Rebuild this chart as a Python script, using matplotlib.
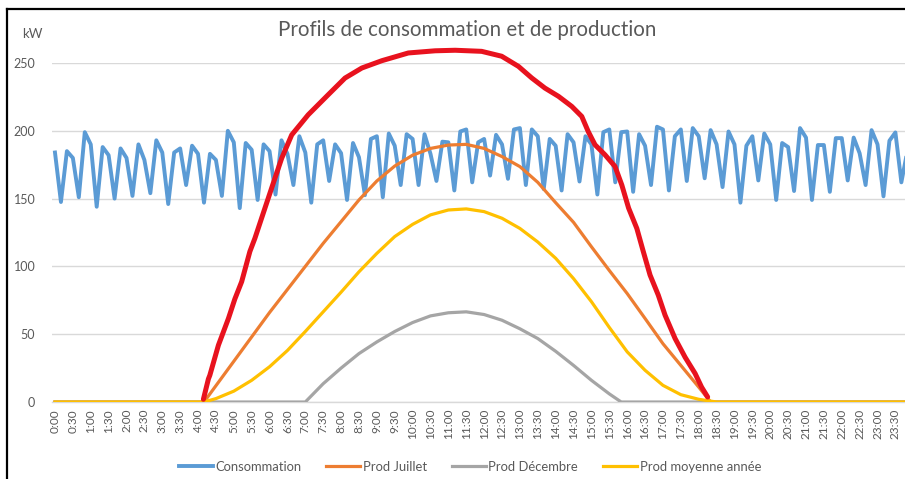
import matplotlib
matplotlib.use("Agg")
import matplotlib.pyplot as plt
from matplotlib.lines import Line2D
import numpy as np

plt.rcParams['font.family'] = ['Lato', 'DejaVu Sans']

# ---------------- data ----------------
title = "Profils de consommation et de production"
y_unit = "kW"

# consumption, every 10 minutes from 0:00 to 23:50 (144 values)
consommation = [
    184, 147.5, 185, 180, 151, 199, 190, 144, 188, 182, 150, 187, 180, 152, 190, 178.5, 154, 193, 184, 146, 184, 187, 160, 189,
    183, 147, 183, 178.5, 152, 200, 191.5, 143, 191, 186, 149, 190, 185, 153, 193, 183, 160, 196, 184, 147, 190, 193, 163,
    190, 183.5, 149, 191, 180.5, 152.5, 194, 196, 151, 198, 189, 160, 197.5, 194, 160, 197.5, 183, 163, 192, 191.5, 156, 199.5, 201, 162,
    191.5, 194, 167, 197, 190, 164.6, 201, 202, 160, 201, 196, 157, 194, 189, 156, 197.5, 191.5, 162.6, 196, 190, 153, 199, 201,
    162, 199, 199.5, 155, 197.5, 189, 160, 203, 201, 156, 196, 201, 163, 202, 196, 165, 200.5, 190, 158.5, 199.5, 190, 147, 189, 196,
    163.4, 198, 190, 149, 191, 188, 155.6, 202, 195, 149, 189.5, 189.5, 155, 194.6, 194.6, 163.4, 195, 183.4, 160, 200.5, 190, 151.7,
    192.7, 198.8, 162, 185,
]

juillet_times = ["0:00", "4:10", "4:30", "5:00", "5:30", "6:00", "6:30", "7:00", "7:30", "8:00", "8:30", "9:00",
                 "9:30", "10:00", "10:30", "11:00", "11:30", "12:00", "12:30", "13:00", "13:30", "14:00",
                 "14:30", "15:00", "15:30", "16:00", "16:30", "17:00", "17:30", "18:00", "18:20", "23:50"]
juillet = [0, 0, 12, 30, 48, 66, 83, 100, 117, 133, 149, 163, 174, 182, 187, 189.5, 190, 187, 181, 173.6,
           162, 147, 132.5, 114.5, 97, 80, 61.6, 43, 27, 11, 0, 0]

decembre_times = ["0:00", "7:00", "7:30", "8:00", "8:30", "9:00", "9:30", "10:00", "10:30", "11:00", "11:30",
                  "12:00", "12:30", "13:00", "13:30", "14:00", "14:30", "15:00", "15:30", "15:50", "23:50"]
decembre = [0, 0, 13.5, 25, 35.7, 44.3, 52, 58.6, 63.5, 65.8, 66.5, 64.5, 60.3, 54, 46.8, 37.4, 27, 16, 6, 0, 0]

moyenne_times = ["0:00", "4:10", "4:30", "5:00", "5:30", "6:00", "6:30", "7:00", "7:30", "8:00", "8:30", "9:00",
                 "9:30", "10:00", "10:30", "11:00", "11:30", "12:00", "12:30", "13:00", "13:30", "14:00",
                 "14:30", "15:00", "15:30", "16:00", "16:30", "17:00", "17:30", "18:00", "18:30", "23:50"]
moyenne = [0, 0, 2.5, 8, 16, 26, 38, 52, 66.5, 81, 96, 109.6, 122, 131, 138, 141.6, 142.4, 140.4, 135.5, 128,
           118, 106, 91, 74, 55, 37, 23.4, 12.3, 5.4, 2, 0, 0]

# hand-drawn red outline (decimal hours, kW)
red_hours = [4.15, 4.29, 4.33, 4.57, 4.85, 5.03, 5.22, 5.45, 5.59, 5.87, 6.15, 6.34, 6.62, 7.08, 7.64, 8.11,
             8.58, 9.14, 9.88, 10.63, 11.19, 11.93, 12.49, 12.96, 13.33, 13.70, 14.08, 14.45, 14.73, 14.91,
             15.10, 15.38, 15.66, 15.85, 16.04, 16.27, 16.45, 16.64, 16.87, 17.06, 17.34, 17.62, 17.90, 18.08, 18.25]
red_vals = [2, 17, 19.7, 41.9, 61.6, 76, 88.7, 111, 120.7, 142.9, 165, 179.8, 197, 211.8, 226.6, 238.9,
            246.3, 251.7, 257.4, 259, 259.4, 258.6, 255, 247.5, 239, 231.5, 225.4, 218, 210.6, 199.5,
            189.7, 182.3, 173.7, 160, 143, 128, 111, 93.6, 78.8, 64, 46.8, 33, 21, 11, 3.7]

series_names = ["Consommation", "Prod Juillet", "Prod Décembre", "Prod moyenne année"]
tick_labels = [f"{h}:{m:02d}" for h in range(24) for m in (0, 30)]
y_ticks = [0, 50, 100, 150, 200, 250]


def idx(t):
    h, m = t.split(":")
    return (int(h) * 60 + int(m)) / 10.0


# ---------------- figure ----------------
W, H = 905, 479
fig = plt.figure(figsize=(W / 100, H / 100), dpi=100)
fig.patch.set_facecolor("white")

ax_left, ax_right, ax_top, ax_bot = 52, 910.3, 63, 402
ax = fig.add_axes([ax_left / W, 1 - ax_bot / H, (ax_right - ax_left) / W, (ax_bot - ax_top) / H])

txt = "#595959"
grid = "#D9D9D9"

x_cons = np.arange(len(consommation))
l1, = ax.plot(x_cons, consommation, color="#5B9BD5", lw=2.8, solid_joinstyle="round", zorder=3)
l2, = ax.plot([idx(t) for t in juillet_times], juillet, color="#ED7D31", lw=2.3, zorder=4)
l3, = ax.plot([idx(t) for t in decembre_times], decembre, color="#A5A5A5", lw=2.3, zorder=5)
l4, = ax.plot([idx(t) for t in moyenne_times], moyenne, color="#FFC000", lw=2.3, zorder=6)
ax.plot([h * 6 for h in red_hours], red_vals, color="#E8121E", lw=3.6, solid_capstyle="round",
        solid_joinstyle="round", zorder=7, clip_on=False)

ax.set_xlim(-0.5, len(consommation) - 0.5)
ax.set_ylim(0, 250)
ax.set_yticks(y_ticks)
ax.set_xticks(np.arange(0, len(consommation), 3))
ax.set_xticklabels(tick_labels, rotation=90)
ax.tick_params(axis="x", length=0, pad=5, labelsize=8.5, colors=txt)
ax.tick_params(axis="y", length=0, pad=12, labelsize=9, colors=txt)
ax.grid(axis="y", color=grid, lw=1.0)
ax.set_axisbelow(True)
for s in ("top", "right", "left"):
    ax.spines[s].set_visible(False)
ax.spines["bottom"].set_color(grid)
ax.spines["bottom"].set_linewidth(1.0)

fig.text(467 / W, 1 - 30 / H, title, ha="center", va="center", fontsize=14.8, color=txt)
fig.text(32 / W, 1 - 34 / H, y_unit, ha="center", va="center", fontsize=9.5, color=txt)

fig.legend([l1, l2, l3, l4], series_names, loc="center", bbox_to_anchor=(470 / W, 1 - 467 / H),
           ncol=4, frameon=False, fontsize=9.4, handlelength=2.6, columnspacing=1.9, handletextpad=0.2,
           labelcolor=txt)

# outer black border (partially visible)
fig.add_artist(Line2D([7 / W, 7 / W], [0, 1 - 9 / H], color="black", lw=1.6, transform=fig.transFigure))
fig.add_artist(Line2D([7 / W, 1], [1 - 9 / H, 1 - 9 / H], color="black", lw=1.6, transform=fig.transFigure))

fig.savefig("out.png", dpi=100)
